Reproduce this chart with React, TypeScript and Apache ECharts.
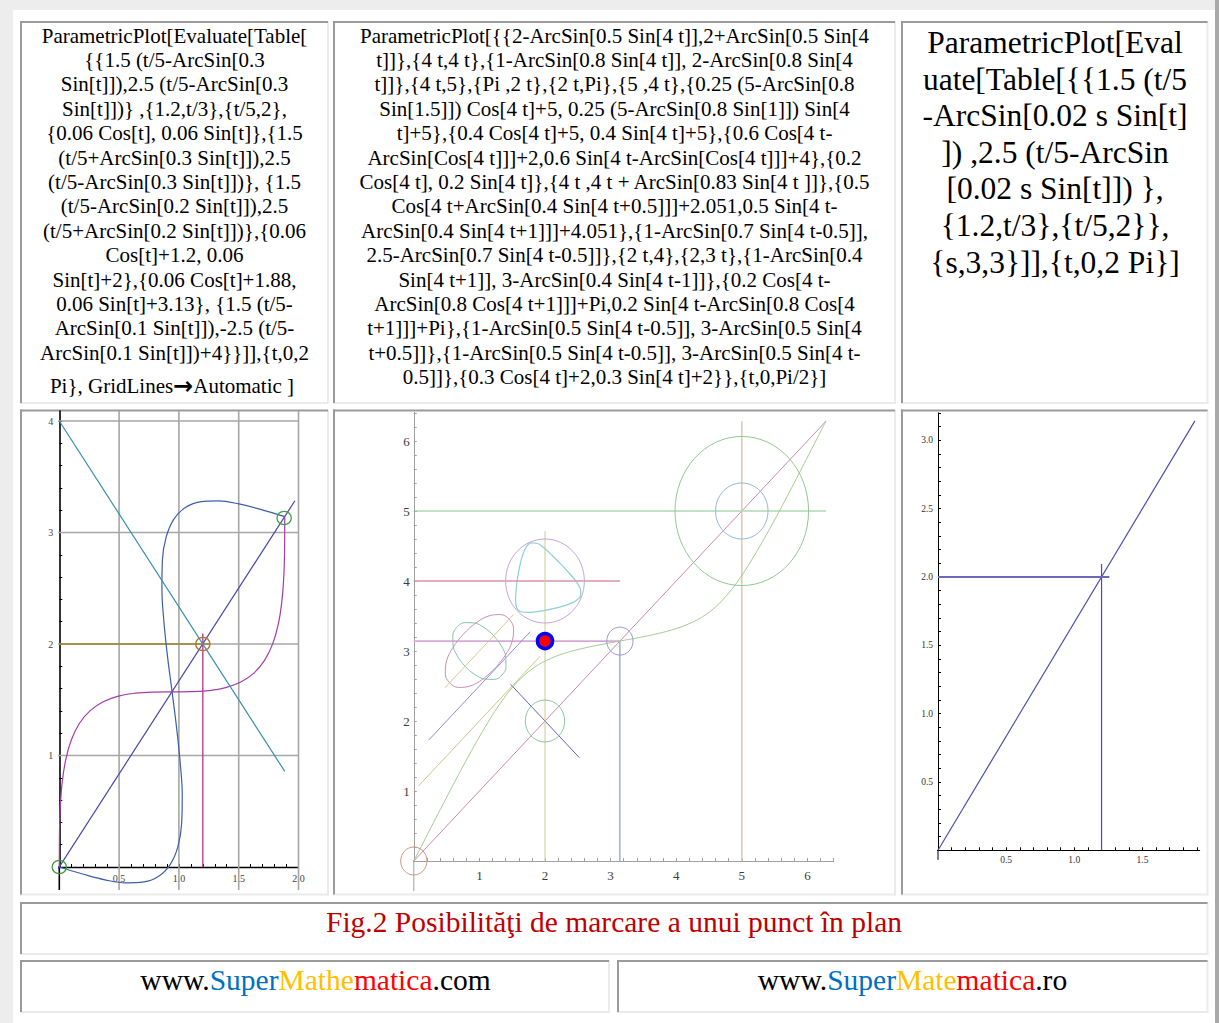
import React, { useEffect, useRef } from "react";
import * as echarts from "echarts";

const SERIF = '"Liberation Serif", "Times New Roman", Times, serif';

// ---------------- texts ----------------
const cell1Lines = [
  "ParametricPlot[Evaluate[Table[",
  "{{1.5 (t/5-ArcSin[0.3",
  "Sin[t]]),2.5 (t/5-ArcSin[0.3",
  "Sin[t]])} ,{1.2,t/3},{t/5,2},",
  "{0.06 Cos[t], 0.06 Sin[t]},{1.5",
  "(t/5+ArcSin[0.3 Sin[t]]),2.5",
  "(t/5-ArcSin[0.3 Sin[t]])}, {1.5",
  "(t/5-ArcSin[0.2 Sin[t]]),2.5",
  "(t/5+ArcSin[0.2 Sin[t]])},{0.06",
  "Cos[t]+1.2, 0.06",
  "Sin[t]+2},{0.06 Cos[t]+1.88,",
  "0.06 Sin[t]+3.13}, {1.5 (t/5-",
  "ArcSin[0.1 Sin[t]]),-2.5 (t/5-",
  "ArcSin[0.1 Sin[t]])+4}}]],{t,0,2",
];
const cell1LastBefore = "Pi}, GridLines";
const cell1LastArrow = "\u2192";
const cell1LastAfter = "Automatic ]";
const cell2Lines = [
  "ParametricPlot[{{2-ArcSin[0.5 Sin[4 t]],2+ArcSin[0.5 Sin[4",
  "t]]},{4 t,4 t},{1-ArcSin[0.8 Sin[4 t]], 2-ArcSin[0.8 Sin[4",
  "t]]},{4 t,5},{Pi ,2 t},{2 t,Pi},{5 ,4 t},{0.25 (5-ArcSin[0.8",
  "Sin[1.5]]) Cos[4 t]+5, 0.25 (5-ArcSin[0.8 Sin[1]]) Sin[4",
  "t]+5},{0.4 Cos[4 t]+5, 0.4 Sin[4 t]+5},{0.6 Cos[4 t-",
  "ArcSin[Cos[4 t]]]+2,0.6 Sin[4 t-ArcSin[Cos[4 t]]]+4},{0.2",
  "Cos[4 t], 0.2 Sin[4 t]},{4 t ,4 t + ArcSin[0.83 Sin[4 t ]]},{0.5",
  "Cos[4 t+ArcSin[0.4 Sin[4 t+0.5]]]+2.051,0.5 Sin[4 t-",
  "ArcSin[0.4 Sin[4 t+1]]]+4.051},{1-ArcSin[0.7 Sin[4 t-0.5]],",
  "2.5-ArcSin[0.7 Sin[4 t-0.5]]},{2 t,4},{2,3 t},{1-ArcSin[0.4",
  "Sin[4 t+1]], 3-ArcSin[0.4 Sin[4 t-1]]},{0.2 Cos[4 t-",
  "ArcSin[0.8 Cos[4 t+1]]]+Pi,0.2 Sin[4 t-ArcSin[0.8 Cos[4",
  "t+1]]]+Pi},{1-ArcSin[0.5 Sin[4 t-0.5]], 3-ArcSin[0.5 Sin[4",
  "t+0.5]]},{1-ArcSin[0.5 Sin[4 t-0.5]], 3-ArcSin[0.5 Sin[4 t-",
  "0.5]]},{0.3 Cos[4 t]+2,0.3 Sin[4 t]+2}},{t,0,Pi/2}]",
];
const cell3Lines = [
  "ParametricPlot[Eval",
  "uate[Table[{{1.5 (t/5",
  "-ArcSin[0.02 s Sin[t]",
  "]) ,2.5 (t/5-ArcSin",
  "[0.02 s Sin[t]]) },",
  "{1.2,t/3},{t/5,2}},",
  "{s,3,3}]],{t,0,2 Pi}]",
];
const captionText = "Fig.2 Posibilităţi de marcare a unui punct în plan";
const footerLeftParts = ["www.", "Super", "Mathe", "matica", ".com"];
const footerRightParts = ["www.", "Super", "Mate", "matica", ".ro"];

// ---------------- plot 1 data ----------------
const p1Diagonal = [[-0.085, -0.14], [1.97, 3.285]];
const p1Vertical = [[1.2, 0], [1.2, 2.094]];
const p1Horizontal = [[0, 2], [1.257, 2]];
const p1Loop = [
  [0, 0], [0.195, -0.063], [0.383, -0.115], [0.556, -0.142], [0.708, -0.134],
  [0.834, -0.081], [0.928, 0.024], [0.991, 0.181], [1.023, 0.39], [1.028, 0.644],
  [1.011, 0.933], [0.981, 1.246], [0.943, 1.571], [0.904, 1.896], [0.874, 2.209],
  [0.858, 2.498], [0.862, 2.752], [0.894, 2.96], [0.957, 3.118], [1.051, 3.222],
  [1.177, 3.275], [1.329, 3.283], [1.502, 3.256], [1.69, 3.205], [1.885, 3.142],
];
const p1S = [
  [0, 0], [0.001, 0.26], [0.007, 0.512], [0.023, 0.748], [0.053, 0.959],
  [0.101, 1.141], [0.169, 1.289], [0.258, 1.402], [0.367, 1.482], [0.494, 1.533],
  [0.635, 1.559], [0.786, 1.569], [0.943, 1.571], [1.099, 1.572], [1.25, 1.582],
  [1.391, 1.609], [1.518, 1.659], [1.627, 1.739], [1.716, 1.853], [1.784, 2.001],
  [1.832, 2.183], [1.862, 2.394], [1.878, 2.629], [1.884, 2.881], [1.885, 3.142],
];
const p1Descending = [[0, 4], [1.885, 0.858]];
const p1Circles = [
  [0, 0, 0.06, 0.06],
  [1.2, 2, 0.06, 0.06],
  [1.88, 3.13, 0.06, 0.06],
];
const p1GridX = [0.5, 1, 1.5, 2];
const p1GridY = [1, 2, 3, 4];
const p1XLabels = [0.5, 1, 1.5, 2];
const p1YLabels = [1, 2, 3, 4];

// ---------------- plot 2 data ----------------
const p2LineA = [[1.476, 2.524], [2.524, 1.476]];
const p2Diag = [[0, 0], [6.283, 6.283]];
const p2LineC = [[0.073, 1.073], [1.927, 2.927]];
const p2H5 = [[0, 5], [6.283, 5]];
const p2VPi = [[3.1416, 0], [3.1416, 3.1416]];
const p2HPi = [[0, 3.1416], [3.1416, 3.1416]];
const p2V5 = [[5, 0], [5, 6.283]];
const p2S = [
  [0, 0], [0.262, 0.478], [0.524, 0.952], [0.785, 1.413], [1.047, 1.849],
  [1.309, 2.24], [1.571, 2.55], [1.833, 2.763], [2.094, 2.896], [2.356, 2.984],
  [2.618, 3.046], [2.88, 3.096], [3.142, 3.142], [3.403, 3.187], [3.665, 3.237],
  [3.927, 3.3], [4.189, 3.387], [4.451, 3.52], [4.712, 3.733], [4.974, 4.044],
  [5.236, 4.435], [5.498, 4.87], [5.76, 5.332], [6.021, 5.805], [6.283, 6.283],
];
const p2Triangle = [
  [2.542, 3.883], [2.48, 3.987], [2.373, 4.107], [2.246, 4.238], [2.107, 4.367],
  [1.983, 4.474], [1.876, 4.539], [1.787, 4.546], [1.717, 4.489], [1.66, 4.373],
  [1.616, 4.217], [1.582, 4.046], [1.56, 3.883], [1.551, 3.747], [1.559, 3.649],
  [1.589, 3.587], [1.649, 3.557], [1.744, 3.551], [1.876, 3.563], [2.035, 3.587],
  [2.206, 3.623], [2.363, 3.669], [2.482, 3.726], [2.544, 3.796], [2.542, 3.883],
];
const p2LineN = [[0.225, 1.725], [1.775, 3.275]];
const p2H4 = [[0, 4], [3.1416, 4]];
const p2V2 = [[2, 0], [2, 4.712]];
const p2EllipseQ = [
  [0.657, 3.343], [0.595, 3.23], [0.599, 3.085], [0.665, 2.929], [0.782, 2.782],
  [0.929, 2.665], [1.085, 2.599], [1.23, 2.595], [1.343, 2.657], [1.405, 2.77],
  [1.401, 2.915], [1.335, 3.071], [1.218, 3.218], [1.071, 3.335], [0.915, 3.401],
  [0.77, 3.405], [0.657, 3.343],
];
const p2EllipseS = [
  [1.242, 2.758], [1.054, 2.6], [0.859, 2.5], [0.681, 2.48], [0.546, 2.546],
  [0.48, 2.681], [0.5, 2.859], [0.6, 3.054], [0.758, 3.242], [0.946, 3.4],
  [1.141, 3.5], [1.319, 3.52], [1.454, 3.454], [1.52, 3.319], [1.5, 3.141],
  [1.4, 2.946], [1.242, 2.758],
];
const p2LineT = [[0.476, 2.476], [1.524, 3.524]];
const p2Circles = [
  [5, 5, 1.018, 1.065],
  [5, 5, 0.4, 0.4],
  [2, 4, 0.6, 0.6],
  [0, 0, 0.2, 0.2],
  [3.1416, 3.1416, 0.2, 0.2],
  [2, 2, 0.3, 0.3],
];
const p2Point = [[2, 3.1416]];
const p2Labels = [1, 2, 3, 4, 5, 6];

// ---------------- plot 3 data ----------------
const p3Line = [[0, 0], [1.885, 3.1416]];
const p3Vertical = [[1.2, 0], [1.2, 2.094]];
const p3Horizontal = [[0, 2], [1.257, 2]];
const p3XLabels = [0.5, 1, 1.5];
const p3YLabels = [0.5, 1, 1.5, 2, 2.5, 3];

// ---------------- helpers ----------------
function seq(a: number, b: number, step: number): number[] {
  const out: number[] = [];
  const n = Math.round((b - a) / step);
  for (let i = 0; i <= n; i++) out.push(+(a + i * step).toFixed(4));
  return out;
}

const DARK = "#9b9b9b";
const LIGHT = "#ebebeb";

function cellBorder(x1: number, y1: number, x2: number, y2: number) {
  return [
    { type: "rect", shape: { x: x1, y: y2 - 2, width: x2 - x1, height: 2 }, style: { fill: LIGHT } },
    { type: "rect", shape: { x: x2 - 2, y: y1, width: 2, height: y2 - y1 }, style: { fill: LIGHT } },
    { type: "rect", shape: { x: x1, y: y1, width: x2 - x1 - 1, height: 2 }, style: { fill: DARK } },
    { type: "rect", shape: { x: x1, y: y1, width: 2, height: y2 - y1 - 1 }, style: { fill: DARK } },
  ];
}

function textEl(text: string, x: number, y: number, size: number, fill = "#000") {
  return {
    type: "text",
    x,
    y,
    style: {
      text,
      fill,
      font: `${size}px ${SERIF}`,
      fontSize: size,
      fontFamily: SERIF,
      align: "center",
      verticalAlign: "middle",
      textAlign: "center",
      textVerticalAlign: "middle",
    },
  };
}

function makeRich(richDefs: Record<string, any>, size: number) {
  const rich: any = {};
  Object.keys(richDefs).forEach((k) => {
    const d = richDefs[k];
    const fs = d.fontSize || size;
    const ff = d.fontFamily || SERIF;
    const fw = d.fontWeight || "normal";
    rich[k] = {
      fill: d.fill,
      textFill: d.fill,
      fontSize: fs,
      fontFamily: ff,
      fontWeight: fw,
      font: `${fw} ${fs}px ${ff}`,
    };
  });
  return rich;
}

function richText(text: string, richDefs: Record<string, any>, x: number, y: number, size: number) {
  return {
    type: "text",
    x,
    y,
    style: {
      text,
      rich: makeRich(richDefs, size),
      fill: "#000",
      font: `${size}px ${SERIF}`,
      fontSize: size,
      fontFamily: SERIF,
      align: "center",
      verticalAlign: "middle",
      textAlign: "center",
      textVerticalAlign: "middle",
    },
  };
}

const footerRich = {
  k: { fill: "#000000" },
  b: { fill: "#0070c0" },
  y: { fill: "#ffc000" },
  r: { fill: "#ff0000" },
};
const footerKeys = ["k", "b", "y", "r", "k"];
const footerText = (parts: string[]) => parts.map((p, i) => `{${footerKeys[i]}|${p}}`).join("");

function valueAxis(o: any) {
  return {
    type: "value",
    gridIndex: o.grid,
    min: o.min,
    max: o.max,
    axisLine: { show: true, onZero: false, lineStyle: { color: o.lineColor, width: o.lineWidth } },
    axisTick: {
      show: true,
      inside: true,
      length: o.tickLen,
      customValues: o.ticks,
      lineStyle: { color: o.tickColor, width: 1 },
    },
    axisLabel: {
      show: true,
      customValues: o.labels,
      formatter: o.fmt,
      fontSize: o.fontSize,
      fontFamily: SERIF,
      color: o.labelColor,
      margin: o.margin,
    },
    splitLine: { show: false },
    minorTick: { show: false },
  };
}

function curve(data: number[][], idx: number, color: string, width: number, smooth: boolean | number = false, z = 3) {
  return {
    type: "line",
    xAxisIndex: idx,
    yAxisIndex: idx,
    data,
    showSymbol: false,
    symbol: "none",
    smooth,
    clip: false,
    silent: true,
    z,
    lineStyle: { color, width },
  };
}

function ellipses(data: number[][], idx: number, colors: string[], width: number) {
  return {
    type: "custom",
    xAxisIndex: idx,
    yAxisIndex: idx,
    data,
    clip: false,
    silent: true,
    z: 4,
    renderItem: (params: any, api: any) => {
      const c = api.coord([api.value(0), api.value(1)]);
      const s = api.size([api.value(2), api.value(3)]);
      return {
        type: "ellipse",
        shape: { cx: c[0], cy: c[1], rx: s[0], ry: s[1] },
        style: { fill: "none", stroke: colors[params.dataIndex], lineWidth: width },
      };
    },
  };
}

function gridLines(xs: number[], ys: number[], idx: number, xr: number[], yr: number[], color: string, width: number) {
  const out: any[] = [];
  xs.forEach((v) => out.push(curve([[v, yr[0]], [v, yr[1]]], idx, color, width, false, 1)));
  ys.forEach((v) => out.push(curve([[xr[0], v], [xr[1], v]], idx, color, width, false, 1)));
  return out;
}

// axis stubs that reach past the origin (drawn through the axes' scales)
function axisStubs(idx: number, xLow: number, yLow: number, color: string, wx: number, wy: number) {
  return [
    curve([[xLow, 0], [0, 0]], idx, color, wx, false, 2),
    curve([[0, yLow], [0, 0]], idx, color, wy, false, 2),
  ];
}

function buildOption() {
  // axis ranges: [visible low end of axis line, 0, top of plot]
  const r1x = [-0.13, 0, 2.0];
  const r1y = [-0.206, 0, 4.09];
  const r2x = [-0.33, 0, 6.4];
  const r2y = [-0.43, 0, 6.41];
  const r3x = [-0.045, 0, 1.92];
  const r3y = [-0.07, 0, 3.2];

  const graphic: any[] = [];
  graphic.push({ type: "rect", shape: { x: 0, y: 0, width: 1219, height: 10 }, style: { fill: "#ededed" } });
  graphic.push({ type: "rect", shape: { x: 0, y: 0, width: 13, height: 1023 }, style: { fill: "#ededed" } });
  graphic.push({ type: "rect", shape: { x: 1215, y: 0, width: 4, height: 1023 }, style: { fill: "#a9a9a9" } });

  const cells = [
    [20, 21, 329, 404],
    [333, 21, 896, 404],
    [901, 21, 1208.5, 404],
    [20, 409.5, 329, 895.5],
    [333, 409.5, 896, 895.5],
    [901, 409.5, 1208.5, 895.5],
    [20, 902, 1208.5, 955],
    [20, 960, 610, 1013],
    [617, 960, 1208.5, 1013],
  ];
  cells.forEach((c) => graphic.push(...cellBorder(c[0], c[1], c[2], c[3])));

  cell1Lines.forEach((t, i) => graphic.push(textEl(t, 174.5, 35.5 + i * 24.4, 21)));
  graphic.push(
    richText(
      `${cell1LastBefore}{a|${cell1LastArrow}}${cell1LastAfter}`,
      { a: { fill: "#000", fontSize: 24, fontFamily: '"DejaVu Sans", sans-serif', fontWeight: "bold" } },
      172,
      386,
      21
    )
  );
  cell2Lines.forEach((t, i) => graphic.push(textEl(t, 614.5, 35.5 + i * 24.4, 21)));
  cell3Lines.forEach((t, i) => graphic.push(textEl(t, 1055, 42.5 + i * 36.6, 31.5)));
  graphic.push(textEl(captionText, 614, 922, 29.5, "#c00000"));
  graphic.push(richText(footerText(footerLeftParts), footerRich, 315.5, 980, 29.5));
  graphic.push(richText(footerText(footerRightParts), footerRich, 912.5, 980, 29.5));

  // grids: origin pixel + scale (px per unit); grid starts at data 0
  const g = (x0: number, sx: number, y0: number, sy: number, xmax: number, ymax: number) => ({
    left: x0,
    top: y0 - sy * ymax,
    width: sx * xmax,
    height: sy * ymax,
    containLabel: false,
    outerBoundsMode: "none",
    show: false,
  });
  const grids = [
    g(59.3, 119.6, 867, 111.5, r1x[2], r1y[2]),
    g(413.8, 65.6, 861, 70, r2x[2], r2y[2]),
    g(938, 136.3, 850.3, 136.7, r3x[2], r3y[2]),
  ];

  const xAxis = [
    valueAxis({
      grid: 0, min: 0, max: r1x[2], lineColor: "#000", lineWidth: 1.3, tickLen: 3,
      ticks: seq(0, 2.0, 0.1), labels: p1XLabels, fmt: (v: number) => v.toFixed(1),
      tickColor: "#000", fontSize: 10, labelColor: "#444", margin: 6,
    }),
    valueAxis({
      grid: 1, min: 0, max: r2x[2], lineColor: "#a0a0a0", lineWidth: 1, tickLen: 3,
      ticks: seq(0, 6.4, 0.2), labels: p2Labels, fmt: (v: number) => String(v),
      tickColor: "#a0a0a0", fontSize: 13, labelColor: "#3c3c3c", margin: 8,
    }),
    valueAxis({
      grid: 2, min: 0, max: r3x[2], lineColor: "#000", lineWidth: 1, tickLen: 3,
      ticks: seq(0, 1.9, 0.1), labels: p3XLabels, fmt: (v: number) => v.toFixed(1),
      tickColor: "#000", fontSize: 9.5, labelColor: "#333", margin: 5,
    }),
  ];
  const yAxis = [
    valueAxis({
      grid: 0, min: 0, max: r1y[2], lineColor: "#000", lineWidth: 1.6, tickLen: 3,
      ticks: seq(0, 4.0, 0.2), labels: p1YLabels, fmt: (v: number) => String(v),
      tickColor: "#000", fontSize: 10, labelColor: "#444", margin: 6,
    }),
    valueAxis({
      grid: 1, min: 0, max: r2y[2], lineColor: "#a0a0a0", lineWidth: 1, tickLen: 3,
      ticks: seq(0, 6.4, 0.2), labels: p2Labels, fmt: (v: number) => String(v),
      tickColor: "#a0a0a0", fontSize: 13, labelColor: "#3c3c3c", margin: 4,
    }),
    valueAxis({
      grid: 2, min: 0, max: r3y[2], lineColor: "#000", lineWidth: 1, tickLen: 3,
      ticks: seq(0, 3.2, 0.1), labels: p3YLabels, fmt: (v: number) => v.toFixed(1),
      tickColor: "#000", fontSize: 9.5, labelColor: "#333", margin: 5,
    }),
  ];

  const series: any[] = [
    // plot 1
    ...gridLines(p1GridX, p1GridY, 0, [r1x[0], r1x[2]], [r1y[0], r1y[2]], "#a6a6a6", 1.6),
    ...axisStubs(0, r1x[0], r1y[0], "#000", 1.3, 1.6),
    curve(p1Diagonal, 0, "#4646aa", 1.2),
    curve(p1Vertical, 0, "#b8408a", 1.4),
    curve(p1Horizontal, 0, "#9c8628", 1.4),
    curve(p1Loop, 0, "#3e5ea8", 1.2, 0.4),
    curve(p1S, 0, "#a43ea4", 1.2, 0.4),
    curve(p1Descending, 0, "#3a8db0", 1.2),
    ellipses(p1Circles, 0, ["#3a9a3a", "#aa6e30", "#3aa04a"], 1.3),
    // plot 2
    ...axisStubs(1, r2x[0], r2y[0], "#a0a0a0", 1, 1),
    curve(p2LineA, 1, "#6464b8", 1),
    curve(p2Diag, 1, "#c88aae", 1),
    curve(p2LineC, 1, "#cfc58a", 1),
    curve(p2H5, 1, "#86c490", 1),
    curve(p2VPi, 1, "#8898cc", 1.2),
    curve(p2HPi, 1, "#d8a8d8", 1.6),
    curve(p2V5, 1, "#e6c8b0", 1.6),
    curve(p2S, 1, "#a4cc92", 1, 0.4),
    curve(p2Triangle, 1, "#8fd0d0", 1.2, 0.4),
    curve(p2LineN, 1, "#9688d4", 1),
    curve(p2H4, 1, "#d494ac", 1.4),
    curve(p2V2, 1, "#c4cc94", 1),
    curve(p2EllipseQ, 1, "#84c4aa", 1, 0.4),
    curve(p2EllipseS, 1, "#c890b4", 1, 0.4),
    curve(p2LineT, 1, "#d6cc92", 1),
    ellipses(p2Circles, 1, ["#92c892", "#94b8d4", "#c6a4d6", "#c8988a", "#9c98d8", "#8ec8a2"], 1),
    {
      type: "scatter",
      xAxisIndex: 1,
      yAxisIndex: 1,
      data: p2Point,
      symbol: "circle",
      symbolSize: 15,
      silent: true,
      z: 10,
      itemStyle: { color: "#ff0000", borderColor: "#0000ff", borderWidth: 3.5, opacity: 1 },
    },
    // plot 3
    ...axisStubs(2, r3x[0], r3y[0], "#000", 1, 1),
    curve(p3Line, 2, "#4e4eaa", 1.2),
    curve(p3Vertical, 2, "#4e4eaa", 1.2),
    curve(p3Horizontal, 2, "#6a6ab8", 2),
  ];

  return {
    animation: false,
    backgroundColor: "#ffffff",
    grid: grids,
    xAxis,
    yAxis,
    series,
    graphic: { elements: graphic },
  };
}

export default function App() {
  const ref = useRef<HTMLDivElement>(null);
  useEffect(() => {
    if (!ref.current) return;
    const chart = echarts.init(ref.current, null, { renderer: "svg" });
    chart.setOption(buildOption() as any);
    return () => chart.dispose();
  }, []);
  return (
    <div
      ref={ref}
      style={{ position: "absolute", left: 0, top: 0, width: 1219, height: 1023 }}
    />
  );
}
